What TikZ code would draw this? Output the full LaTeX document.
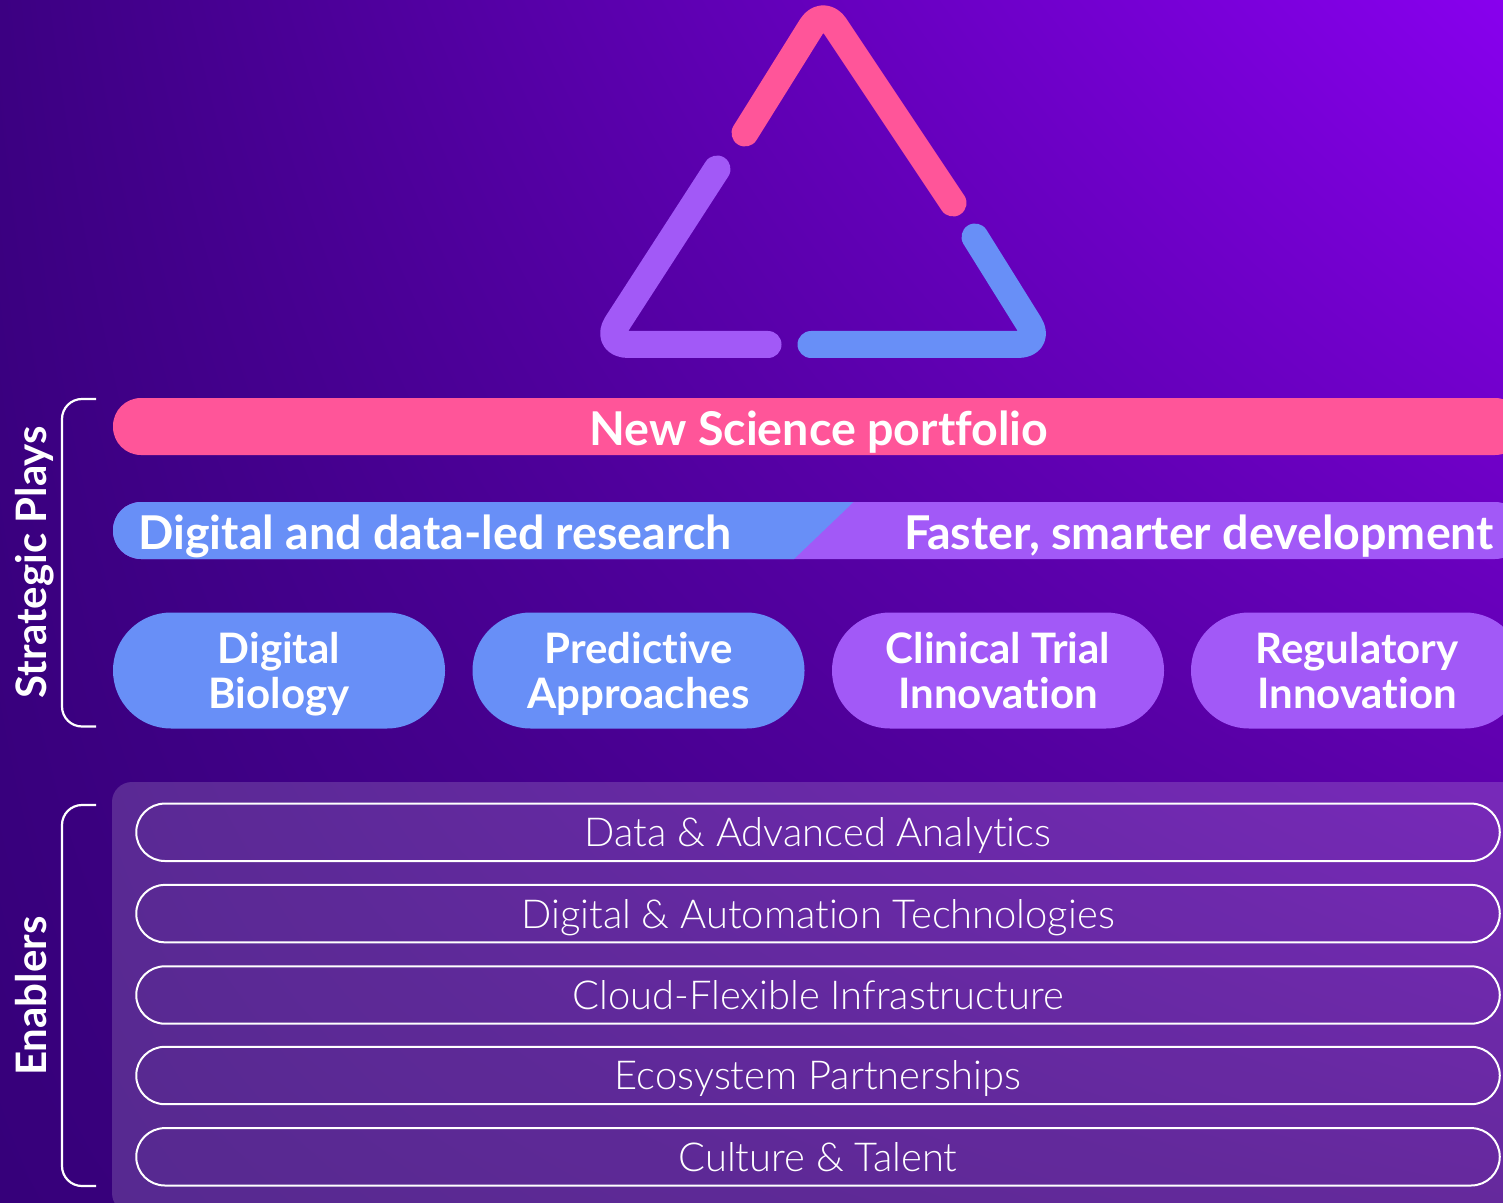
\documentclass[tikz,border=0pt]{standalone}
\usepackage{fontspec}
\usetikzlibrary{shadings}
\setmainfont{Lato}
\newfontfamily\heavy[Ligatures=NoCommon,Contextuals=NoAlternate]{Lato Bold}
\newfontfamily\thin[Ligatures=NoCommon,Contextuals=NoAlternate]{Lato Light}
\definecolor{pinkc}{HTML}{FF5599}
\definecolor{bluec}{HTML}{688FF7}
\definecolor{violetc}{HTML}{A259F7}
\definecolor{bgll}{HTML}{36007A}
\definecolor{bglr}{HTML}{48008A}
\definecolor{bgul}{HTML}{3C0082}
\definecolor{bgur}{HTML}{8800EE}
\newcommand{\lh}{\vphantom{Ag}}
\newcommand{\fh}{\rule{0pt}{19.5pt}}
\newcommand{\lanetext}[1]{\raisebox{-7.2pt}[0pt][0pt]{#1}}
\tikzset{
  every node/.style={inner sep=0pt,outer sep=0pt,text=white,align=center},
  logo/.style={line width=13.5pt,line cap=round,line join=round},
  brk/.style={draw=white,line width=1.1pt,rounded corners=10pt},
  bar/.style={minimum width=705pt,minimum height=28.5pt,rounded corners=14pt},
  oval/.style={minimum width=166pt,minimum height=58pt,rounded corners=29pt,font=\heavy\fontsize{21}{22.5}\selectfont},
  bartext/.style={anchor=base,font=\heavy\fontsize{23.3}{26}\selectfont},
  side/.style={anchor=base,font=\heavy\fontsize{21}{24}\selectfont,rotate=90},
  lane/.style={draw=white,line width=1pt,minimum width=681.75pt,minimum height=28.7pt,rounded corners=14.3pt,font=\thin\fontsize{19.95}{22}\selectfont},
}
\begin{document}
\begin{tikzpicture}[x=0.5pt,y=-0.5pt]
\useasboundingbox (0,0) rectangle (1503,1203);
\clip (0,0) rectangle (1503,1203);
\shade[lower left=bgll,lower right=bglr,upper left=bgul,upper right=bgur] (0,0) rectangle (1503,1203);
% logo
\draw[logo,pinkc,rounded corners=11pt] (745,133) -- (823,8) -- (953,203);
\draw[logo,violetc,rounded corners=12.5pt] (717,169) -- (603.5,344.5) -- (768,344.5);
\draw[logo,bluec,rounded corners=12pt] (811,344.5) -- (1042,344.5) -- (975,237);
% brackets
\coordinate (s1) at (96,399); \coordinate (s2) at (62,399); \coordinate (s3) at (62,726.5); \coordinate (s4) at (96,726.5);
\draw[brk] (s1) -- (s2) -- (s3) -- (s4);
\coordinate (e1) at (96,805); \coordinate (e2) at (62,805); \coordinate (e3) at (62,1186); \coordinate (e4) at (96,1186);
\draw[brk] (e1) -- (e2) -- (e3) -- (e4);
\node[side] (strategic) at (46,562.5) {Strategic Plays};
\node[side] (enablers) at (46,996) {Enablers};
% bars
\node[bar,fill=pinkc] (science) at (818,426.5) {};
\node[bartext] (sciencet) at (819,445) {New Science portfolio};
\node[bar,fill=violetc] (dev) at (818,530.5) {};
\begin{scope}
\clip (0,490) -- (853.5,490) -- (853.5,502) -- (793.5,559.5) -- (0,570) -- cycle;
\node[bar,fill=bluec] (research) at (818,530.5) {};
\end{scope}
\node[bartext] (researcht) at (435,549) {Digital and data-led research};
\node[bartext] (devt) at (1199,549) {Faster, smarter development};
% ovals
\node[oval,fill=bluec] (biology) at (279,670.5) {\fh Digital\\\lh Biology};
\node[oval,fill=bluec] (approaches) at (638.5,670.5) {\fh Predictive\\\lh Approaches};
\node[oval,fill=violetc] (clinical) at (998,670.5) {\fh Clinical Trial\\\lh Innovation};
\node[oval,fill=violetc] (regulatory) at (1357,670.5) {\fh Regulatory\\\lh Innovation};
% panel
\fill[white,fill opacity=.16,rounded corners=10pt] (112,782) rectangle (1560,1213);
\node[lane] (l1) at (818,832.3) {\lanetext{Data \& Advanced Analytics}};
\node[lane] (l2) at (818,913.6) {\lanetext{Digital \& Automation Technologies}};
\node[lane] (l3) at (818,995) {\lanetext{Cloud-Flexible Infrastructure}};
\node[lane] (l4) at (818,1075.5) {\lanetext{Ecosystem Partnerships}};
\node[lane] (l5) at (818,1156.8) {\lanetext{Culture \& Talent}};
\end{tikzpicture}
\end{document}
